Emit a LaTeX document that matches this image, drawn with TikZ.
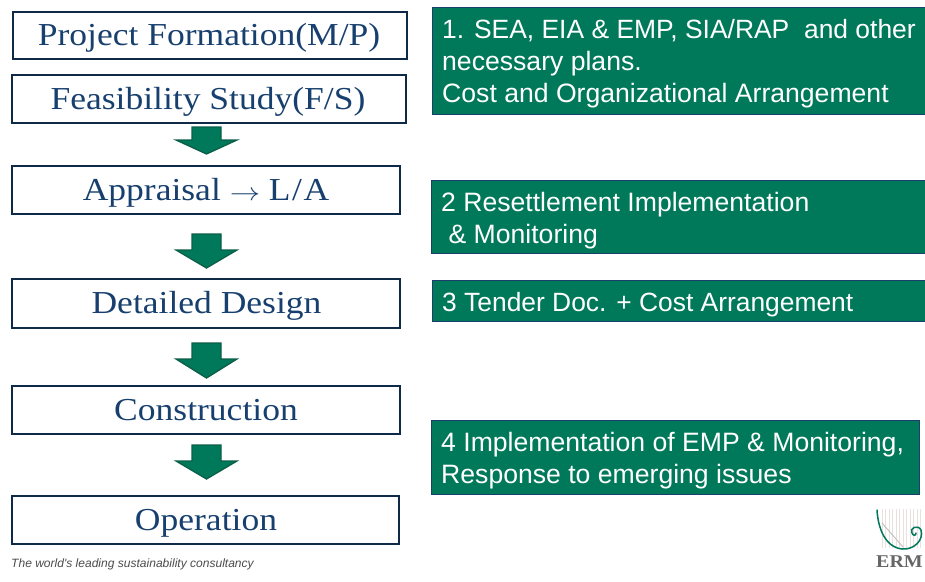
\documentclass[tikz,border=0pt]{standalone}
\usepackage{fontspec}
\usepackage{graphicx}
\setmainfont[FakeStretch=1.11]{Liberation Serif}
\newfontfamily\sansf{Liberation Sans}
\usetikzlibrary{calc}
\definecolor{ermgreen}{HTML}{00785A}
\definecolor{ermdark}{HTML}{0B5F48}
\definecolor{navyline}{HTML}{0E2A47}
\definecolor{navytext}{HTML}{17406E}
\definecolor{bluebdr}{HTML}{1B3F6B}
\tikzset{
  x=1pt,y=-1pt,
  stagebox/.style={draw=navyline,line width=2.4pt,fill=white,inner sep=0pt,anchor=north west},
  stagetext/.style={text=navytext,font=\fontsize{32}{36}\selectfont,inner sep=0pt,anchor=base},
  notebox/.style={draw=bluebdr,line width=1.2pt,fill=ermgreen,inner sep=0pt,anchor=north west},
  blockarrow/.style={draw=ermdark,line width=1.3pt,fill=ermgreen,line join=miter},
  notetext/.style={text=white,font=\sansf\fontsize{26.6}{32}\selectfont,anchor=base west,inner sep=0pt},
}
\newcommand{\stage}[7]{\node[stagebox,minimum width=#4pt-#2pt-2pt,minimum height=#5pt-#3pt-1.5pt] (#1) at (#2,#3) {};
  \node[stagetext] (#1t) at (#6) {#7};}
\newcommand{\note}[5]{\node[notebox,minimum width=#4pt-#2pt-1pt,minimum height=#5pt-#3pt-1pt] (#1) at (#2,#3) {};}
\newcommand{\blockdown}[4]{% name, shaft top, shoulder, tip
  \coordinate (#1) at (206.5,#4);
  \draw[blockarrow] (192,#2) -- (221,#2) -- (221,#3) -- (237,#3) -- (#1) -- (176,#3) -- (192,#3) -- cycle;}
\begin{document}
\begin{tikzpicture}
\useasboundingbox (0,0) rectangle (925,581);
\fill[white] (0,0) rectangle (925,581);
\stage{pf}{12}{11}{408}{59}{209,45}{Project Formation(M/P)}
\stage{fs}{11}{74}{407}{123}{208,109}{Feasibility Study(F/S)}
\stage{ap}{11}{165}{401}{214}{206,200}{Appraisal \scalebox{1.22}[1]{$\rightarrow$} L\kern1.5pt/\kern1.5pt A}
\stage{dd}{11}{278}{401}{328}{206.5,313}{Detailed Design}
\stage{co}{11}{385}{401}{434}{206,420}{Construction}
\stage{op}{11}{495}{400}{544}{206,530}{Operation}
\blockdown{a1}{127}{140}{154}
\blockdown{a2}{234}{250}{268}
\blockdown{a3}{343}{359}{378}
\blockdown{a4}{445}{461}{479}
\note{n1}{432}{7}{926}{115}
\note{n2}{431}{180}{926}{254}
\note{n3}{432}{280}{926}{322}
\note{n4}{431}{420}{920}{495}
\node[notetext,font=\sansf\fontsize{26.43}{32}\selectfont] (t1a) at (442,38) {1. SEA, EIA \& EMP, SIA/RAP\ \ and other};
\node[notetext] (t1b) at (442,70) {necessary plans.};
\node[notetext] (t1c) at (442,102) {Cost and Organizational Arrangement};
\node[notetext] (t2a) at (441,211) {2 Resettlement Implementation};
\node[notetext] (t2b) at (441,243) {\ \&\ Monitoring};
\node[notetext,font=\sansf\fontsize{26.4}{32}\selectfont] (t3a) at (442,311) {3 Tender Doc. + Cost Arrangement};
\node[notetext] (t4a) at (441,451) {4 Implementation of EMP \& Monitoring,};
\node[notetext] (t4b) at (441,483) {Response to emerging issues};
\node[anchor=base west,inner sep=0pt,text=black!70,font=\sansf\itshape\fontsize{12.04}{14}\selectfont] (tag) at (11,567) {The world's leading sustainability consultancy};
% logo
\draw[red!35!black!12,line width=.3pt,step=3.5] (881,509) grid (923,548);
\draw[black!25,line width=.9pt] (882,523) -- (903,547);
\draw[ermgreen,line width=1.5pt,line cap=round] (877,510) .. controls (878,528) and (885,547) .. (902,549) .. controls (914,550) and (924,540) .. (921,530) .. controls (918,524) and (909,528) .. (912,533) .. controls (913,536) and (916,536) .. (916,533);
\node[anchor=base,inner sep=0pt,text=black!60,font=\bfseries\fontsize{18}{20}\selectfont] (logo) at (899.5,567) {ERM};
\end{tikzpicture}
\end{document}
